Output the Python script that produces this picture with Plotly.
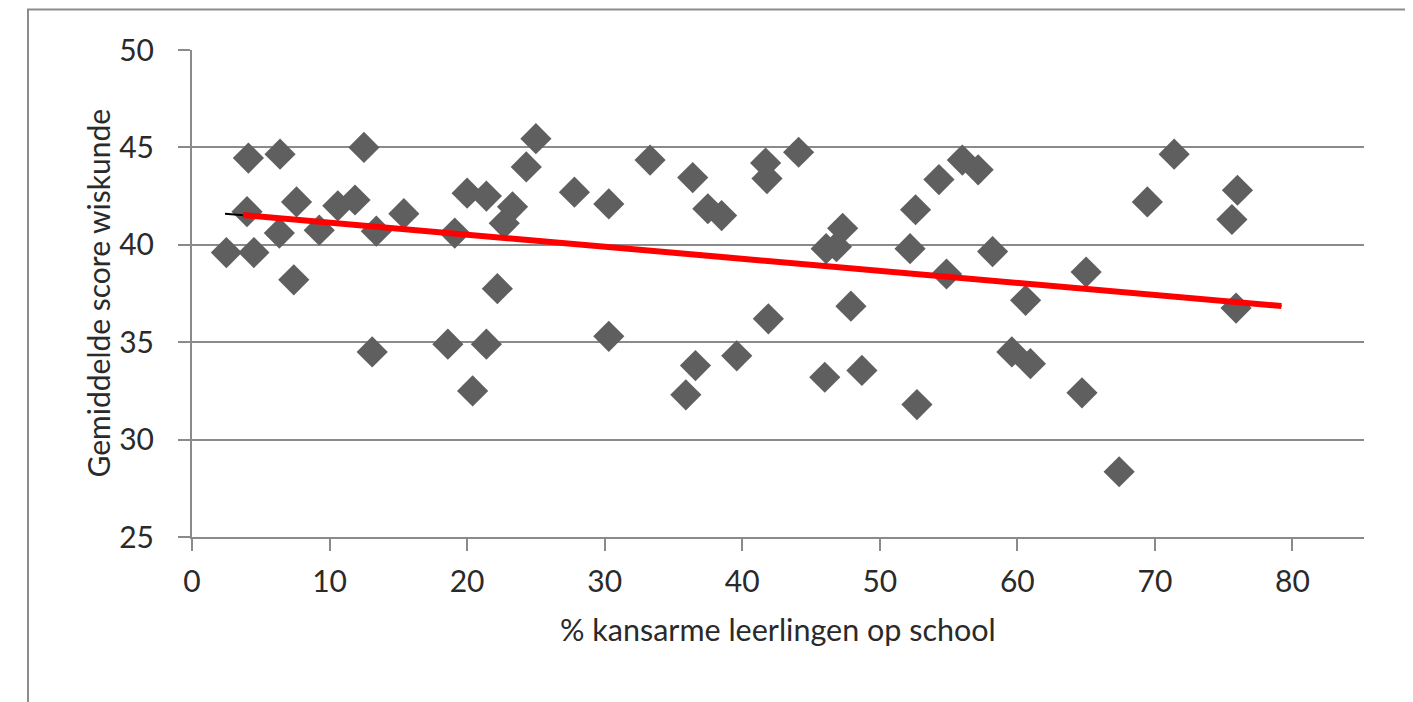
import plotly.graph_objects as go

# % kansarme leerlingen op school
pct_kansarm = [2.5, 4.1, 4.0, 4.5, 6.4, 6.35, 7.6, 7.4, 9.25, 10.6,
               11.85, 12.5, 13.4, 13.1, 15.4, 19.1, 18.6, 20.0, 21.4, 23.3,
               22.7, 22.2, 21.4, 20.4, 24.3, 25.0, 27.8, 30.3, 33.3, 30.3,
               36.4, 37.5, 38.5, 36.6, 35.9, 39.6, 41.7, 41.8, 41.9, 44.1,
               47.3, 46.1, 46.85, 47.9, 46.0, 48.7, 52.6, 52.2, 54.3, 54.85,
               52.7, 56.0, 57.15, 58.2, 60.6, 59.6, 60.95, 65.0, 64.7, 67.4,
               69.45, 71.4, 76.0, 75.6, 75.9]
# Gemiddelde score wiskunde
score = [39.6, 44.45, 41.7, 39.6, 44.65, 40.6, 42.2, 38.2, 40.75, 42.0,
         42.3, 45.0, 40.7, 34.5, 41.6, 40.6, 34.9, 42.65, 42.5, 41.95,
         41.1, 37.75, 34.9, 32.5, 44.0, 45.45, 42.7, 42.1, 44.35, 35.3,
         43.45, 41.85, 41.5, 33.8, 32.3, 34.3, 44.2, 43.4, 36.2, 44.75,
         40.85, 39.8, 39.9, 36.85, 33.2, 33.55, 41.8, 39.8, 43.35, 38.5,
         31.8, 44.35, 43.85, 39.65, 37.15, 34.5, 33.9, 38.6, 32.4, 28.35,
         42.2, 44.65, 42.8, 41.3, 36.75]

# trend line end points
trend_black_x = [2.4, 79.2]
trend_black_y = [41.6, 36.86]
trend_x = [3.7, 79.2]
trend_y = [41.53, 36.86]

x_ticks = [0, 10, 20, 30, 40, 50, 60, 70, 80]
y_ticks = [25, 30, 35, 40, 45, 50]

FONT = "Lato"
TXT = "#2a2a2a"
GRID = "#8a8a8a"

fig = go.Figure()
fig.add_trace(go.Scatter(x=pct_kansarm, y=score, mode="markers",
                         marker=dict(symbol="diamond", size=24, color="#5f5f5f",
                                     line=dict(width=0)),
                         showlegend=False, hoverinfo="x+y"))
fig.add_trace(go.Scatter(x=trend_black_x, y=trend_black_y, mode="lines",
                         line=dict(color="black", width=2), showlegend=False))
fig.add_trace(go.Scatter(x=trend_x, y=trend_y, mode="lines",
                         line=dict(color="#ff0000", width=6), showlegend=False))

OFF = 8  # page body margin
L, R, T, B = 192 - OFF, 1364 - OFF, 50 - OFF, 537 - OFF
W, H = 1413 - OFF, 702 - OFF
pw, ph = R - L, B - T

fig.update_layout(
    width=W, height=H,
    margin=dict(l=L, r=W - R, t=T, b=H - B),
    paper_bgcolor="white", plot_bgcolor="white",
    font=dict(family=FONT, color=TXT, size=30),
    xaxis=dict(range=[0, 85.2], tickvals=x_ticks, showgrid=False, zeroline=False,
               showline=True, linecolor=GRID, linewidth=2,
               ticks="outside", ticklen=12, tickwidth=2, tickcolor=GRID,
               ticklabelstandoff=5, tickfont=dict(size=30, family=FONT, color=TXT)),
    yaxis=dict(range=[25, 50], tickvals=y_ticks, showgrid=True, gridcolor=GRID,
               gridwidth=2, zeroline=False,
               showline=True, linecolor=GRID, linewidth=2,
               ticks="outside", ticklen=12, tickwidth=2, tickcolor=GRID,
               ticklabelstandoff=18, tickfont=dict(size=30, family=FONT, color=TXT)),
    annotations=[
        dict(text="% kansarme leerlingen op school", xref="paper", yref="paper",
             x=0.5, y=(B - (629 - OFF)) / ph, xanchor="center", yanchor="middle",
             showarrow=False, font=dict(size=30.5, family=FONT, color=TXT)),
        dict(text="Gemiddelde score wiskunde", xref="paper", yref="paper",
             x=((97 - OFF) - L) / pw, y=0.5, xanchor="center", yanchor="middle",
             textangle=-90, showarrow=False,
             font=dict(size=30, family=FONT, color=TXT)),
    ],
    shapes=[
        dict(type="rect", xref="paper", yref="paper",
             x0=((28 - OFF) - L) / pw, x1=(W + 20 - L) / pw,
             y0=(B - (H + 20)) / ph, y1=1 + (T - 1.5) / ph,
             line=dict(color="#8c8c8c", width=2), fillcolor="rgba(0,0,0,0)",
             layer="below"),
    ],
)

fig.write_html("out.html")
